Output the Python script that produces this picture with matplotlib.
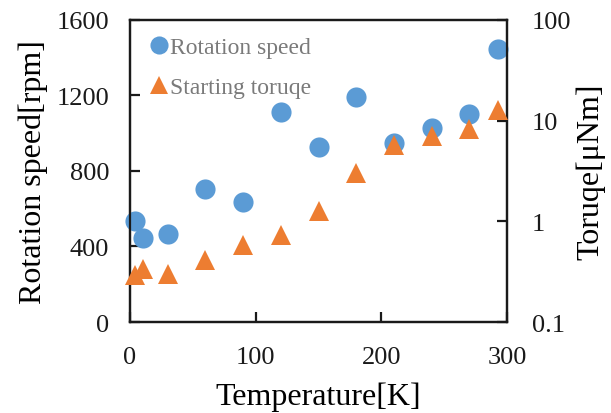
import matplotlib
matplotlib.use("Agg")
import matplotlib.pyplot as plt
import numpy as np

plt.rcParams['font.family'] = ['Liberation Serif', 'DejaVu Serif']

# measured data
temperature = [4, 10, 30, 60, 90, 120, 150, 180, 210, 240, 270, 293]
rotation_speed = [533, 447, 466, 703, 634, 1113, 927, 1190, 948, 1026, 1102, 1448]
temperature_torque = [4, 10, 30, 60, 90, 120, 150, 180, 210, 240, 270, 293]
starting_torque = [0.29, 0.336, 0.303, 0.41, 0.578, 0.737, 1.27, 3.04, 5.73, 7.01, 8.2, 12.8]

blue = '#5B9BD5'
orange = '#ED7D31'

fig = plt.figure(figsize=(6.11, 4.14), dpi=100)
ax = fig.add_axes([0.2128, 0.2198, 0.617, 0.7295])
ax2 = ax.twinx()

p1, = ax.plot(temperature, rotation_speed, 'o', color=blue, markersize=14.5,
              markeredgewidth=0, label='Rotation speed', clip_on=False, zorder=3)
p2, = ax2.plot(temperature_torque, starting_torque, '^', color=orange, markersize=14.5,
               markeredgewidth=0, label='Starting toruqe', clip_on=False, zorder=3)

ax.set_xlim(0, 300)
ax.set_ylim(0, 1600)
ax.set_xticks([0, 100, 200, 300])
ax.set_yticks([0, 400, 800, 1200, 1600])

ax2.set_yscale('log')
ax2.set_ylim(0.1, 100)
ax2.set_yticks([0.1, 1, 10, 100])
ax2.set_yticklabels(['0.1', '1', '10', '100'])
ax2.yaxis.set_minor_locator(matplotlib.ticker.NullLocator())

for a in (ax, ax2):
    for s in a.spines.values():
        s.set_linewidth(1.6)
        s.set_color('#1a1a1a')

ax.tick_params(axis='both', direction='in', length=7, width=1.6, labelsize=19, colors='#1a1a1a')
ax.tick_params(axis='x', pad=17)
ax.tick_params(axis='y', pad=15)
ax2.tick_params(axis='y', direction='in', length=7, width=1.6, labelsize=19, pad=18, colors='#1a1a1a')

ax.set_xlabel('Temperature[K]', fontsize=23, labelpad=10)
ax.set_ylabel('Rotation speed[rpm]', fontsize=23, labelpad=6)
ax2.set_ylabel('Toruqe[μNm]', fontsize=23, labelpad=3)

leg = ax.legend(handles=[p1, p2], loc='upper left', bbox_to_anchor=(0.015, 1.0),
                frameon=False, fontsize=17, handlelength=0.6, handletextpad=0.15,
                labelspacing=0.8, borderaxespad=0.3, markerscale=0.9)
for t in leg.get_texts():
    t.set_color('#7a7a7a')

fig.savefig('out.png', dpi=100)
